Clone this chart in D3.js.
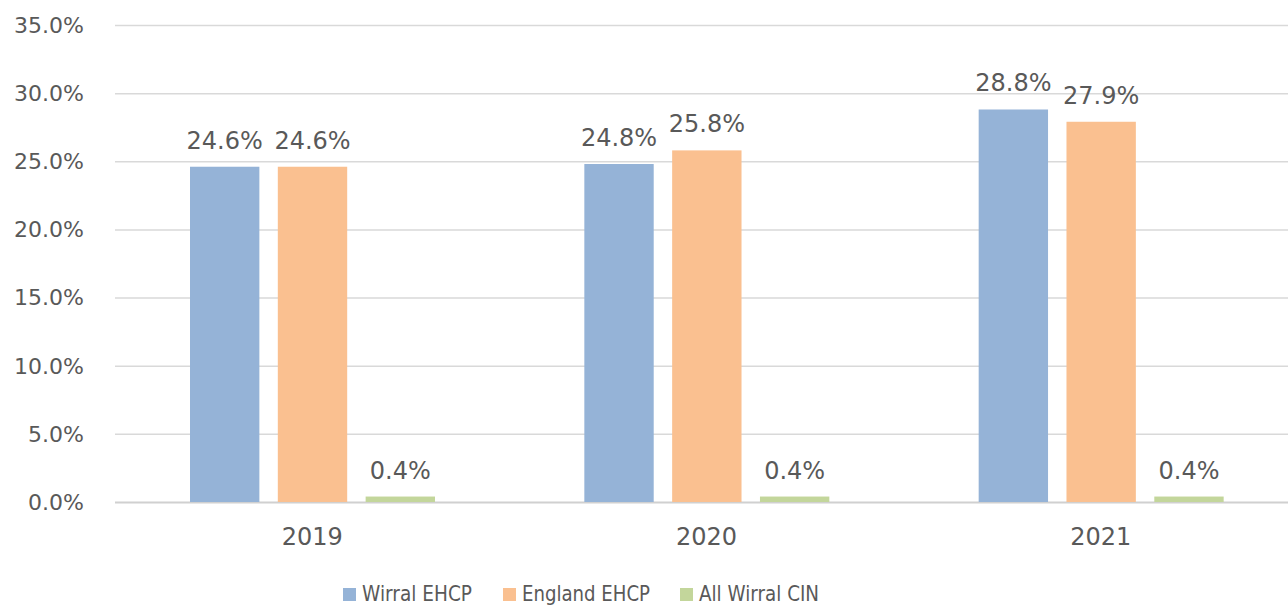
<!DOCTYPE html>
<html><head><meta charset="utf-8">
<script src="https://cdn.jsdelivr.net/npm/d3@7"></script>
<style>
html,body{margin:0;padding:0;background:#fff;}
svg text{font-family:"DejaVu Sans",Verdana,sans-serif;fill:#595959;}
</style></head>
<body>
<svg id="chart" width="1288" height="607"></svg>
<script>
const categories = ["2019","2020","2021"];
const seriesNames = ["Wirral EHCP","England EHCP","All Wirral CIN"];
const wirralEHCP = [24.6, 24.8, 28.8];
const englandEHCP = [24.6, 25.8, 27.9];
const allWirralCIN = [0.4, 0.4, 0.4];
const yTicks = [0,5,10,15,20,25,30,35];
const colors = ["#95b3d7","#fac090","#c3d69b"];

const seriesValues = [wirralEHCP, englandEHCP, allWirralCIN];
const svg = d3.select("#chart");
const y = d3.scaleLinear().domain([0,35]).range([502,25]);
const x0 = d3.scaleBand().domain(categories).range([115,1298]).paddingInner(0).paddingOuter(0);
const x1 = d3.scaleBand().domain(seriesNames).range([75,320]).paddingInner(0.21).paddingOuter(0);

// gridlines
svg.append("g").selectAll("line").data(yTicks).join("line")
  .attr("x1",115).attr("x2",1288)
  .attr("y1",d=>y(d)+0.5).attr("y2",d=>y(d)+0.5)
  .attr("stroke",d=>d===0?"#d0d0d0":"#d9d9d9").attr("stroke-width",d=>d===0?2:1.5);

// y labels
svg.append("g").selectAll("text").data(yTicks).join("text")
  .attr("x",84).attr("y",d=>y(d)).attr("dy","0.36em")
  .attr("text-anchor","end").attr("font-size",22)
  .text(d=>d.toFixed(1)+"%");

// bars
const groups = svg.append("g").selectAll("g").data(categories).join("g")
  .attr("transform",d=>`translate(${x0(d)},0)`);
groups.each(function(cat,ci){
  const g = d3.select(this);
  const data = seriesNames.map((s,si)=>({s,si,v:seriesValues[si][ci]}));
  g.selectAll("rect").data(data).join("rect")
    .attr("x",d=>x1(d.s)).attr("width",x1.bandwidth())
    .attr("y",d=>y(d.v)).attr("height",d=>y(0)-y(d.v))
    .attr("fill",d=>colors[d.si]);
  g.selectAll("text.lbl").data(data).join("text").attr("class","lbl")
    .attr("x",d=>x1(d.s)+x1.bandwidth()/2).attr("y",d=>y(d.v)-18)
    .attr("text-anchor","middle").attr("font-size",24)
    .text(d=>d.v.toFixed(1)+"%");
});

// x labels
svg.append("g").selectAll("text").data(categories).join("text")
  .attr("x",d=>x0(d)+x0.bandwidth()/2).attr("y",545)
  .attr("text-anchor","middle").attr("font-size",24).text(d=>d);

// legend
const legX = [343,503,680];
const legW = [110,128,120];
const leg = svg.append("g").selectAll("g").data(seriesNames).join("g")
  .attr("transform",(d,i)=>`translate(${legX[i]},588)`);
leg.append("rect").attr("width",13).attr("height",13).attr("fill",(d,i)=>colors[i]);
leg.append("text").attr("x",19).attr("y",13).attr("font-size",22)
  .attr("textLength",(d,i)=>legW[i]).attr("lengthAdjust","spacingAndGlyphs").text(d=>d);
</script>
</body></html>
